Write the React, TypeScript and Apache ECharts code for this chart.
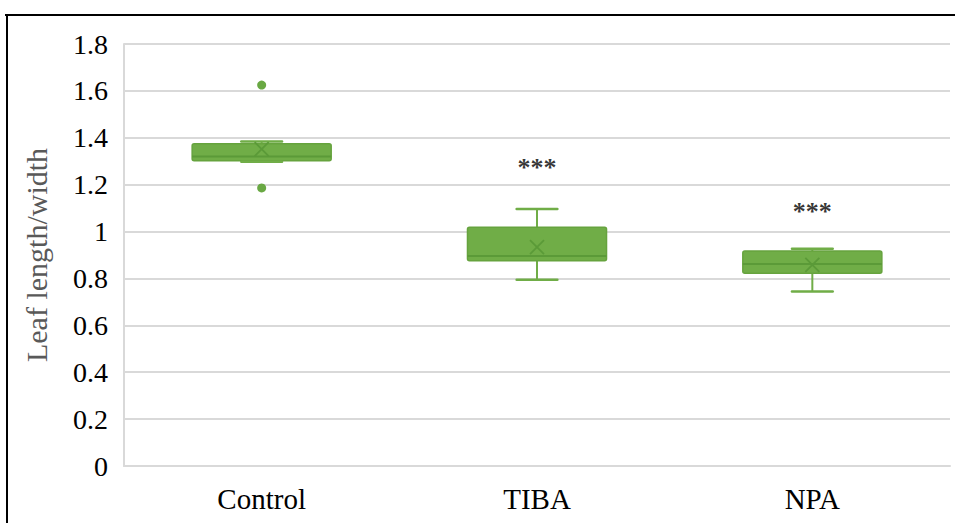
import React, { useEffect, useRef } from "react";
import * as echarts from "echarts";

const categories = ["Control", "TIBA", "NPA"];
// [min whisker, Q1, median, Q3, max whisker, mean]
const boxStats = [
  [1.298, 1.302, 1.32, 1.374, 1.384, 1.352],
  [0.794, 0.875, 0.896, 1.018, 1.096, 0.934],
  [0.744, 0.822, 0.862, 0.917, 0.927, 0.858],
];
// outliers: [category index, value]
const outliers = [
  [0, 1.625],
  [0, 1.186],
];
// significance marks: [category index, value, text]
const sigMarks = [
  [1, 1.272, "***"],
  [2, 1.086, "***"],
];
const yTicks = { min: 0, max: 1.8, interval: 0.2 };

const GREEN = "#70AD47";
const DARK = "#5B9A38";
const SERIF = "'Liberation Serif', 'Times New Roman', serif";

export default function App() {
  const ref = useRef<HTMLDivElement>(null);
  useEffect(() => {
    const chart = echarts.init(ref.current!, null, { renderer: "svg" });
    const boxData = boxStats.map((s, i) => [i, ...s]);
    chart.setOption({
      animation: false,
      backgroundColor: "#fff",
      textStyle: { fontFamily: SERIF },
      grid: { left: 124, right: 5, top: 44, bottom: 57, containLabel: false },
      xAxis: {
        type: "category",
        data: categories,
        axisLine: { show: true, lineStyle: { color: "#d9d9d9", width: 2 } },
        axisTick: { show: false },
        axisLabel: { fontSize: 29, color: "#000", fontFamily: SERIF, margin: 18 },
        splitLine: { show: false },
      },
      yAxis: {
        type: "value",
        min: yTicks.min,
        max: yTicks.max,
        interval: yTicks.interval,
        name: "Leaf length/width",
        nameLocation: "middle",
        nameGap: 73,
        nameTextStyle: { fontSize: 30, color: "#595959", fontFamily: SERIF },
        axisLine: { show: true, lineStyle: { color: "#d9d9d9", width: 2 } },
        axisTick: { show: false },
        axisLabel: {
          fontSize: 28,
          color: "#000",
          fontFamily: SERIF,
          margin: 16,
          formatter: (v: number) => String(Math.round(v * 10) / 10),
        },
        splitLine: { show: true, lineStyle: { color: "#d9d9d9", width: 2 } },
      },
      graphic: [
        { type: "line", shape: { x1: 5, y1: 15, x2: 955, y2: 15 }, style: { stroke: "#000", lineWidth: 2 }, z: 100 },
        { type: "line", shape: { x1: 7, y1: 15, x2: 7, y2: 523 }, style: { stroke: "#000", lineWidth: 2 }, z: 100 },
      ],
      series: [
        {
          type: "custom",
          data: boxData,
          encode: { x: 0, y: [1, 2, 3, 4, 5, 6] },
          renderItem: (params: any, api: any) => {
            const x = api.value(0);
            const c = (v: number) => api.coord([x, v]);
            const pMin = c(api.value(1));
            const pQ1 = c(api.value(2));
            const pMed = c(api.value(3));
            const pQ3 = c(api.value(4));
            const pMax = c(api.value(5));
            const pMean = c(api.value(6));
            const band = api.size([1, 0])[0];
            const bw = band * 0.505;
            const cw = band * 0.148;
            const cx = pMed[0];
            const xs = 7;
            return {
              type: "group",
              children: [
                { type: "line", shape: { x1: cx, y1: pQ3[1], x2: cx, y2: pMax[1] }, style: { stroke: GREEN, lineWidth: 2 } },
                { type: "line", shape: { x1: cx, y1: pQ1[1], x2: cx, y2: pMin[1] }, style: { stroke: GREEN, lineWidth: 2 } },
                {
                  type: "rect",
                  shape: { x: cx - bw / 2, y: pQ3[1], width: bw, height: pQ1[1] - pQ3[1], r: 2 },
                  style: { fill: GREEN, stroke: "#66A33E", lineWidth: 1.5 },
                },
                { type: "line", shape: { x1: cx - bw / 2, y1: pMed[1], x2: cx + bw / 2, y2: pMed[1] }, style: { stroke: DARK, lineWidth: 2 } },
                { type: "line", shape: { x1: cx - cw / 2, y1: pMax[1], x2: cx + cw / 2, y2: pMax[1] }, style: { stroke: GREEN, lineWidth: 2.5, lineCap: "round" } },
                { type: "line", shape: { x1: cx - cw / 2, y1: pMin[1], x2: cx + cw / 2, y2: pMin[1] }, style: { stroke: GREEN, lineWidth: 2.5, lineCap: "round" } },
                { type: "line", shape: { x1: cx - xs, y1: pMean[1] - xs, x2: cx + xs, y2: pMean[1] + xs }, style: { stroke: DARK, lineWidth: 1.8 } },
                { type: "line", shape: { x1: cx - xs, y1: pMean[1] + xs, x2: cx + xs, y2: pMean[1] - xs }, style: { stroke: DARK, lineWidth: 1.8 } },
              ],
            };
          },
          z: 3,
        },
        {
          type: "scatter",
          data: outliers,
          symbol: "circle",
          symbolSize: 9,
          itemStyle: { color: "#69A843", opacity: 1 },
          z: 4,
        },
        {
          type: "scatter",
          data: sigMarks.map((m) => [m[0], m[1]]),
          symbolSize: 0,
          label: {
            show: true,
            position: "inside",
            formatter: (p: any) => String(sigMarks[p.dataIndex][2]),
            fontSize: 26,
            fontWeight: "bold",
            color: "#000",
            fontFamily: SERIF,
          },
          z: 5,
        },
      ],
    });
    return () => chart.dispose();
  }, []);
  return (
    <div
      ref={ref}
      style={{ position: "absolute", left: 0, top: 0, width: 955, height: 523 }}
    />
  );
}
